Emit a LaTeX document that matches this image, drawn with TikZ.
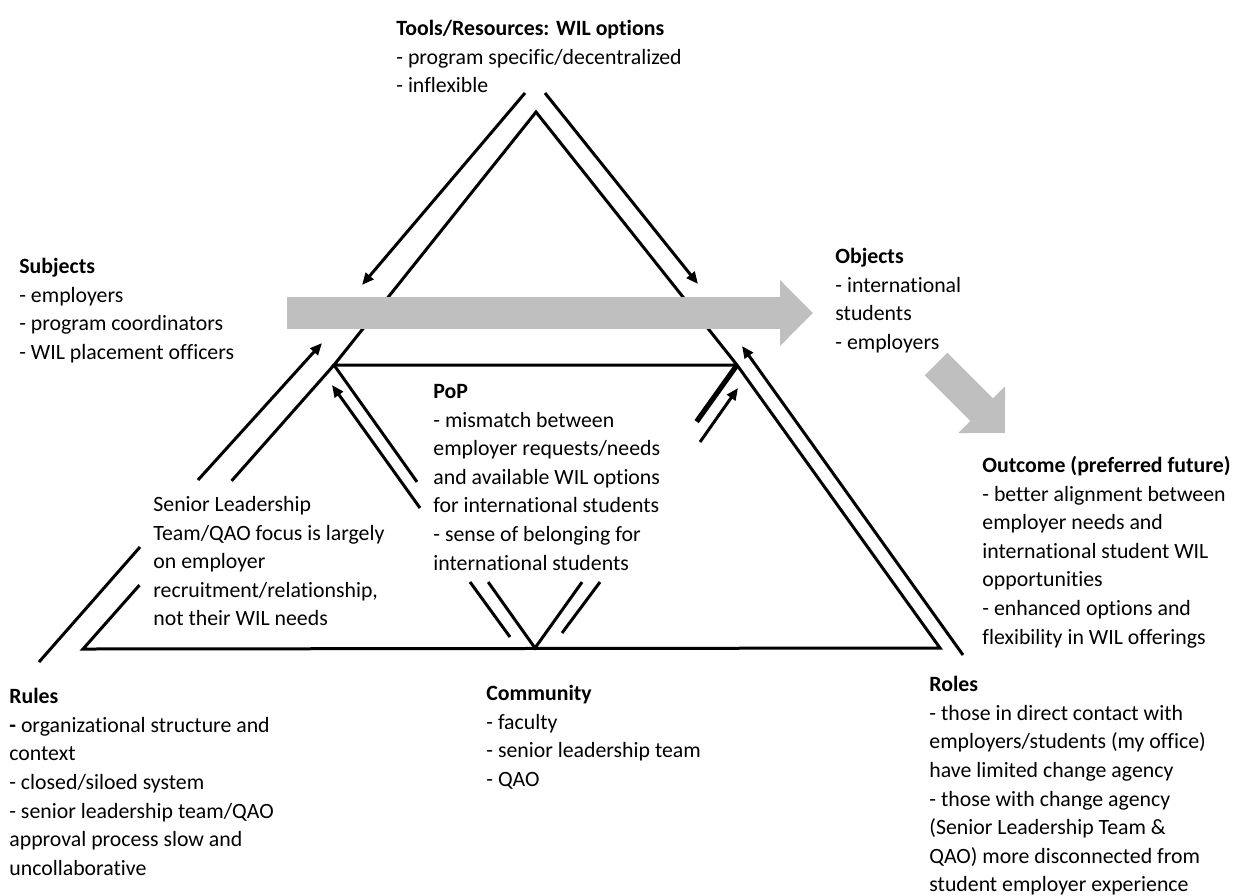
\documentclass[tikz,border=0pt]{standalone}
\usepackage{fontspec}
\setmainfont[Ligatures=NoCommon]{Carlito}
\usetikzlibrary{arrows.meta,calc}
\definecolor{bargray}{RGB}{191,191,191}

\tikzset{
  sideline/.style={line width=1.5pt},
  flowarrow/.style={line width=1.5pt,-{Triangle[length=6pt,width=5pt]}},
  bigarrow/.style={draw=bargray,line width=16pt,-{Triangle[length=16.5pt,width=32pt]}},
  textblock/.style={anchor=north west,inner sep=0pt,align=left,
    font=\fontsize{10.9}{14.3}\selectfont,execute at begin node=\strut},
}

\begin{document}
\begin{tikzpicture}[x=0.5pt,y=-0.5pt]
  \useasboundingbox (0,0) rectangle (1235,895);

  % Corners
  \coordinate (apex)  at (536,112);
  \coordinate (midL)  at (334,365);
  \coordinate (midR)  at (737,365);
  \coordinate (baseL) at (83,649);
  \coordinate (baseM) at (535,648);
  \coordinate (baseR) at (940,648);

  % Triangle
  \draw[sideline] ($(midL)!0.775!(baseL)$) -- (baseL) -- (baseR) -- (midR) -- (apex) -- (midL) -- (midR);
  \draw[sideline] (midL) -- ($(midL)!0.408!(baseL)$);
  \draw[sideline] (midL) -- ($(midL)!0.413!(baseM)$);
  \draw[sideline] ($(midL)!0.767!(baseM)$) -- (baseM) -- ($(midR)!0.767!(baseM)$);
  \draw[line width=2.6pt] (midR) -- ($(midR)!0.2!(baseM)$);

  % Arrow ends
  \coordinate (topLa) at (525,93);   \coordinate (topLb) at (362,285);
  \coordinate (topRa) at (545,93);   \coordinate (topRb) at (698,284);
  \coordinate (outLa) at (198,480);  \coordinate (outLb) at (322,343);
  \coordinate (outLc) at (39,662);   \coordinate (outLd) at (140,547);
  \coordinate (outRa) at (963,655);  \coordinate (outRb) at (742,346);
  \coordinate (inLa)  at (420,508);  \coordinate (inLb)  at (332,385);
  \coordinate (inLc)  at (470,582);  \coordinate (inLd)  at (510,637);
  \coordinate (inRa)  at (700,442);  \coordinate (inRb)  at (738,388);
  \coordinate (inRc)  at (600,582);  \coordinate (inRd)  at (562,633);

  % Arrows along the sides
  \draw[flowarrow] (topLa) -- (topLb);
  \draw[flowarrow] (topRa) -- (topRb);
  \draw[flowarrow] (outLa) -- (outLb);
  \draw[sideline] (outLc) -- (outLd);
  \draw[flowarrow] (outRa) -- (outRb);
  \draw[flowarrow] (inLa) -- (inLb);
  \draw[sideline] (inLc) -- (inLd);
  \draw[flowarrow] (inRa) -- (inRb);
  \draw[sideline] (inRc) -- (inRd);

  % Grey flow arrows
  \coordinate (flowS) at (287,313);  \coordinate (flowE) at (813,313);
  \coordinate (goalS) at (936,364);  \coordinate (goalE) at (1005,433);
  \draw[bigarrow] (flowS) -- (flowE);
  \draw[bigarrow] (goalS) -- (goalE);

  % Texts
  \node[textblock] (tools) at (396,20) {\textbf{Tools/Resources: WIL options}\\- program specific/decentralized\\- inflexible};
  \node[textblock] (subjects) at (19,258) {\textbf{Subjects}\\- employers\\- program coordinators\\- WIL placement officers};
  \node[textblock] (objects) at (835,248) {\textbf{Objects}\\- international\\students\\- employers};
  \node[textblock] (pop) at (433,384) {\textbf{PoP}\\- mismatch between\\employer requests/needs\\and available WIL options\\for international students\\- sense of belonging for\\international students};
  \node[textblock] (slt) at (153,496) {Senior Leadership\\Team/QAO focus is largely\\on employer\\recruitment/relationship,\\not their WIL needs};
  \node[textblock] (outcome) at (982,456) {\textbf{Outcome (preferred future)}\\- better alignment between\\employer needs and\\international student WIL\\opportunities\\- enhanced options and\\flexibility in WIL offerings};
  \node[textblock] (rules) at (9,688) {\textbf{Rules}\\\textbf{-} organizational structure and\\context\\- closed/siloed system\\- senior leadership team/QAO\\approval process slow and\\uncollaborative};
  \node[textblock] (community) at (486,685) {\textbf{Community}\\- faculty\\- senior leadership team\\- QAO};
  \node[textblock] (roles) at (929,676) {\textbf{Roles}\\- those in direct contact with\\employers/students (my office)\\have limited change agency\\- those with change agency\\(Senior Leadership Team \&\\QAO) more disconnected from\\student employer experience};
\end{tikzpicture}
\end{document}
